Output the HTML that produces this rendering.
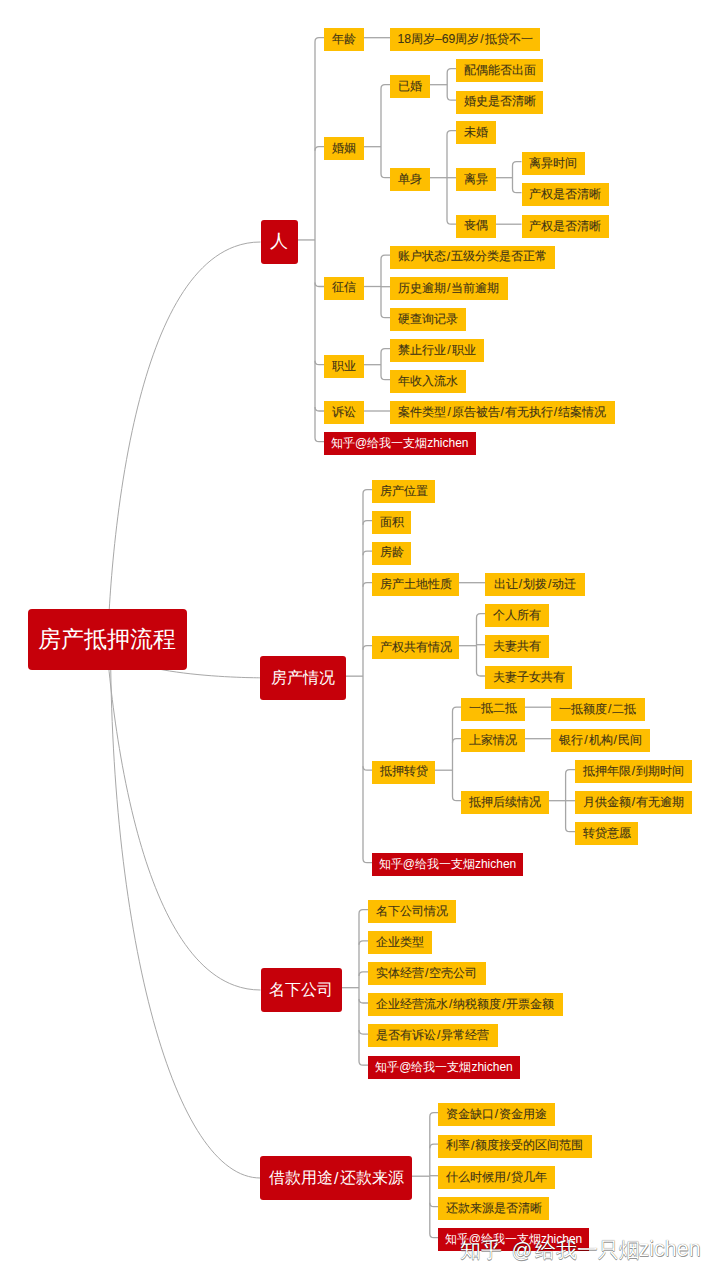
<!DOCTYPE html><html><head><meta charset="utf-8"><style>
html,body{margin:0;padding:0;background:#fff;width:720px;height:1279px;overflow:hidden}
body{position:relative;font-family:"Liberation Sans",sans-serif}
.b{position:absolute;box-sizing:border-box;display:flex;align-items:center;justify-content:center;white-space:nowrap}
.y{background:#FEBE00;color:#3f3416;-webkit-text-stroke:0.1px #3f3416;font-size:12.2px;padding-bottom:1px}
.rz{background:#C6000A;color:#fff;font-size:12px}
.l1{background:#C6000A;color:#fff;font-size:16px;border-radius:3px;padding-top:1px}
.y .s{margin:0 .9px}
.l1 .s{margin:0 1.2px}
.root{background:#C6000A;color:#fff;font-size:23px;border-radius:4px}
svg{position:absolute;left:0;top:0}
.wm{position:absolute;top:1237.5px;font-size:20.5px;line-height:24px;color:#fff;text-shadow:0 0 0.8px rgba(0,0,0,.75),0.5px 0.5px 0.5px rgba(0,0,0,.4);white-space:nowrap}
</style></head><body>
<svg width="720" height="1279" viewBox="0 0 720 1279"><g fill="none" stroke="#a6a6a6" stroke-width="1.3">
<path d="M297.5,239.95H315"/>
<path d="M324,37.7H319Q315,37.7 315,41.7V437.7Q315,441.7 319,441.7H324"/>
<path d="M315,150.7Q315,146.7 319,146.7H324"/>
<path d="M315,282.5Q315,286.5 319,286.5H324"/>
<path d="M315,360.7Q315,364.7 319,364.7H324"/>
<path d="M315,407.0Q315,411.0 319,411.0H324"/>
<path d="M364,37.7H390"/>
<path d="M364,146.7H381"/>
<path d="M390,84.7H385Q381,84.7 381,88.7V173.7Q381,177.7 385,177.7H390"/>
<path d="M430,84.7H447.2"/>
<path d="M456,68.7H451.2Q447.2,68.7 447.2,72.7V96.2Q447.2,100.2 451.2,100.2H456"/>
<path d="M430,177.7H447"/>
<path d="M456,130.7H451Q447,130.7 447,134.7V220.2Q447,224.2 451,224.2H456"/>
<path d="M447,177.7H456"/>
<path d="M495.5,177.7H512.5"/>
<path d="M521.5,161.7H516.5Q512.5,161.7 512.5,165.7V188.7Q512.5,192.7 516.5,192.7H521.5"/>
<path d="M495.5,224.2H521.5"/>
<path d="M364,286.5H381"/>
<path d="M390,255.2H385Q381,255.2 381,259.2V313.7Q381,317.7 385,317.7H390"/>
<path d="M381,286.7H390"/>
<path d="M364,364.7H381"/>
<path d="M390,348.7H385Q381,348.7 381,352.7V375.7Q381,379.7 385,379.7H390"/>
<path d="M364,411.0H390"/>
<path d="M345.6,676.1500000000001H363"/>
<path d="M372,489.7H367Q363,489.7 363,493.7V858.7Q363,862.7 367,862.7H372"/>
<path d="M363,524.7Q363,520.7 367,520.7H372"/>
<path d="M363,555.2Q363,551.2 367,551.2H372"/>
<path d="M363,586.7Q363,582.7 367,582.7H372"/>
<path d="M363,649.7Q363,645.7 367,645.7H372"/>
<path d="M363,766.2Q363,770.2 367,770.2H372"/>
<path d="M459,582.7H485"/>
<path d="M459,645.7H476.5"/>
<path d="M485,613.7H480.5Q476.5,613.7 476.5,617.7V672.0Q476.5,676.0 480.5,676.0H485"/>
<path d="M476.5,644.7H485"/>
<path d="M435,770.2H452.5"/>
<path d="M461,707.2H456.5Q452.5,707.2 452.5,711.2V796.7Q452.5,800.7 456.5,800.7H461"/>
<path d="M452.5,742.7Q452.5,738.7 456.5,738.7H461"/>
<path d="M524.5,707.2H551"/>
<path d="M524.5,738.7H551"/>
<path d="M549,800.7H565.6"/>
<path d="M575,769.7H569.6Q565.6,769.7 565.6,773.7V827.7Q565.6,831.7 569.6,831.7H575"/>
<path d="M565.6,800.7H575"/>
<path d="M341.8,987.7H359"/>
<path d="M368,909.7H363Q359,909.7 359,913.7V1061.2Q359,1065.2 363,1065.2H368"/>
<path d="M359,944.8000000000001Q359,940.8000000000001 363,940.8000000000001H368"/>
<path d="M359,975.9000000000001Q359,971.9000000000001 363,971.9000000000001H368"/>
<path d="M359,999.0Q359,1003.0 363,1003.0H368"/>
<path d="M359,1030.1000000000001Q359,1034.1000000000001 363,1034.1000000000001H368"/>
<path d="M412.0,1176.2H429.8"/>
<path d="M438,1112.7H433.8Q429.8,1112.7 429.8,1116.7V1233.7Q429.8,1237.7 433.8,1237.7H438"/>
<path d="M429.8,1148.2Q429.8,1144.2 433.8,1144.2H438"/>
<path d="M429.8,1175.7H438"/>
<path d="M429.8,1202.7Q429.8,1206.7 433.8,1206.7H438"/>
</g><g fill="none" stroke="#a8a8a8" stroke-width="1">
<path d="M107.63,639.5C107.63,686.3 107.7,242 260.5,242"/>
<path d="M107.5,639.5C107.5,677.8 260,677.8 260,677.8"/>
<path d="M104.43,639.5C104.43,529.1 104.2,990 260.5,990"/>
<path d="M110.52,639.5C110.52,937.2 174.7,1178 260.3,1178"/>
</g></svg>
<div class="b root" style="left:27.7px;top:609px;width:159px;height:61px">房产抵押流程</div>
<div class="b l1" style="left:260.5px;top:219.5px;width:37px;height:44.5px;font-size:17.5px;padding-top:0;padding-bottom:1.5px">人</div>
<div class="b l1" style="left:260px;top:655.7px;width:85.6px;height:44.5px">房产情况</div>
<div class="b l1" style="left:260.5px;top:967.5px;width:81.3px;height:44px">名下公司</div>
<div class="b l1" style="left:260.3px;top:1156px;width:151.7px;height:44px">借款用途<span class="s">/</span>还款来源</div>
<div class="b y" style="left:324px;top:28px;width:40px;height:23px">年龄</div>
<div class="b y" style="left:324px;top:137px;width:40px;height:23px">婚姻</div>
<div class="b y" style="left:324px;top:276.8px;width:40px;height:23px">征信</div>
<div class="b y" style="left:324px;top:355px;width:40px;height:23px">职业</div>
<div class="b y" style="left:324px;top:401.3px;width:40px;height:23px">诉讼</div>
<div class="b rz" style="left:324px;top:432px;width:151.5px;height:23px">知乎@给我一支烟zhichen</div>
<div class="b y" style="left:390px;top:28px;width:150px;height:23px">18周岁–69周岁<span class="s">/</span>抵贷不一</div>
<div class="b y" style="left:390px;top:75px;width:40px;height:23px">已婚</div>
<div class="b y" style="left:390px;top:168px;width:40px;height:23px">单身</div>
<div class="b y" style="left:390px;top:245.5px;width:165px;height:23px">账户状态<span class="s">/</span>五级分类是否正常</div>
<div class="b y" style="left:390px;top:277px;width:117.5px;height:23px">历史逾期<span class="s">/</span>当前逾期</div>
<div class="b y" style="left:390px;top:308px;width:76px;height:23px">硬查询记录</div>
<div class="b y" style="left:390px;top:339px;width:94px;height:23px">禁止行业<span class="s">/</span>职业</div>
<div class="b y" style="left:390px;top:370px;width:76px;height:23px">年收入流水</div>
<div class="b y" style="left:390px;top:401.3px;width:224.5px;height:23px">案件类型<span class="s">/</span>原告被告<span class="s">/</span>有无执行<span class="s">/</span>结案情况</div>
<div class="b y" style="left:456px;top:59px;width:87px;height:23px">配偶能否出面</div>
<div class="b y" style="left:456px;top:90.5px;width:87px;height:23px">婚史是否清晰</div>
<div class="b y" style="left:456px;top:121px;width:39.5px;height:23px">未婚</div>
<div class="b y" style="left:456px;top:168px;width:39.5px;height:23px">离异</div>
<div class="b y" style="left:456px;top:214.5px;width:39.5px;height:23px">丧偶</div>
<div class="b y" style="left:521.5px;top:152px;width:63.5px;height:23px">离异时间</div>
<div class="b y" style="left:521.5px;top:183px;width:87.5px;height:23px">产权是否清晰</div>
<div class="b y" style="left:521.5px;top:215px;width:87.5px;height:23px">产权是否清晰</div>
<div class="b y" style="left:372px;top:480px;width:63px;height:23px">房产位置</div>
<div class="b y" style="left:372px;top:511px;width:39px;height:23px">面积</div>
<div class="b y" style="left:372px;top:541.5px;width:39px;height:23px">房龄</div>
<div class="b y" style="left:372px;top:573px;width:87px;height:23px">房产土地性质</div>
<div class="b y" style="left:372px;top:636px;width:87px;height:23px">产权共有情况</div>
<div class="b y" style="left:372px;top:760.5px;width:63px;height:23px">抵押转贷</div>
<div class="b rz" style="left:372px;top:853px;width:151px;height:23px">知乎@给我一支烟zhichen</div>
<div class="b y" style="left:485px;top:573.3px;width:100px;height:23px">出让<span class="s">/</span>划拨<span class="s">/</span>动迁</div>
<div class="b y" style="left:485px;top:604px;width:64px;height:23px">个人所有</div>
<div class="b y" style="left:485px;top:635px;width:64px;height:23px">夫妻共有</div>
<div class="b y" style="left:485px;top:666.3px;width:87px;height:23px">夫妻子女共有</div>
<div class="b y" style="left:461px;top:697.5px;width:63.5px;height:23px">一抵二抵</div>
<div class="b y" style="left:461px;top:729px;width:63.5px;height:23px">上家情况</div>
<div class="b y" style="left:461px;top:791px;width:88px;height:23px">抵押后续情况</div>
<div class="b y" style="left:551px;top:698px;width:93.5px;height:23px">一抵额度<span class="s">/</span>二抵</div>
<div class="b y" style="left:551px;top:729px;width:99px;height:23px">银行<span class="s">/</span>机构<span class="s">/</span>民间</div>
<div class="b y" style="left:575px;top:760px;width:117px;height:23px">抵押年限<span class="s">/</span>到期时间</div>
<div class="b y" style="left:575px;top:791px;width:117px;height:23px">月供金额<span class="s">/</span>有无逾期</div>
<div class="b y" style="left:575px;top:822px;width:63px;height:23px">转贷意愿</div>
<div class="b y" style="left:368px;top:900px;width:88px;height:23px">名下公司情况</div>
<div class="b y" style="left:368px;top:931.1px;width:64px;height:23px">企业类型</div>
<div class="b y" style="left:368px;top:962.2px;width:117.5px;height:23px">实体经营<span class="s">/</span>空壳公司</div>
<div class="b y" style="left:368px;top:993.3px;width:194.5px;height:23px">企业经营流水<span class="s">/</span>纳税额度<span class="s">/</span>开票金额</div>
<div class="b y" style="left:368px;top:1024.4px;width:129.5px;height:23px">是否有诉讼<span class="s">/</span>异常经营</div>
<div class="b rz" style="left:368px;top:1055.5px;width:152px;height:23px">知乎@给我一支烟zhichen</div>
<div class="b y" style="left:438px;top:1103px;width:117px;height:23px">资金缺口<span class="s">/</span>资金用途</div>
<div class="b y" style="left:438px;top:1134.5px;width:153.5px;height:23px">利率<span class="s">/</span>额度接受的区间范围</div>
<div class="b y" style="left:438px;top:1166px;width:117px;height:23px">什么时候用<span class="s">/</span>贷几年</div>
<div class="b y" style="left:438px;top:1197px;width:111px;height:23px">还款来源是否清晰</div>
<div class="b rz" style="left:438px;top:1228px;width:151px;height:23px">知乎@给我一支烟zhichen</div>
<div class="wm" style="left:459.5px">知乎</div>
<div class="wm" style="left:511.5px">@</div>
<div class="wm" style="left:534.5px">给我一只烟</div>
<div class="wm" style="left:638.5px;font-size:21.5px;top:1236.5px">zichen</div>
</body></html>
